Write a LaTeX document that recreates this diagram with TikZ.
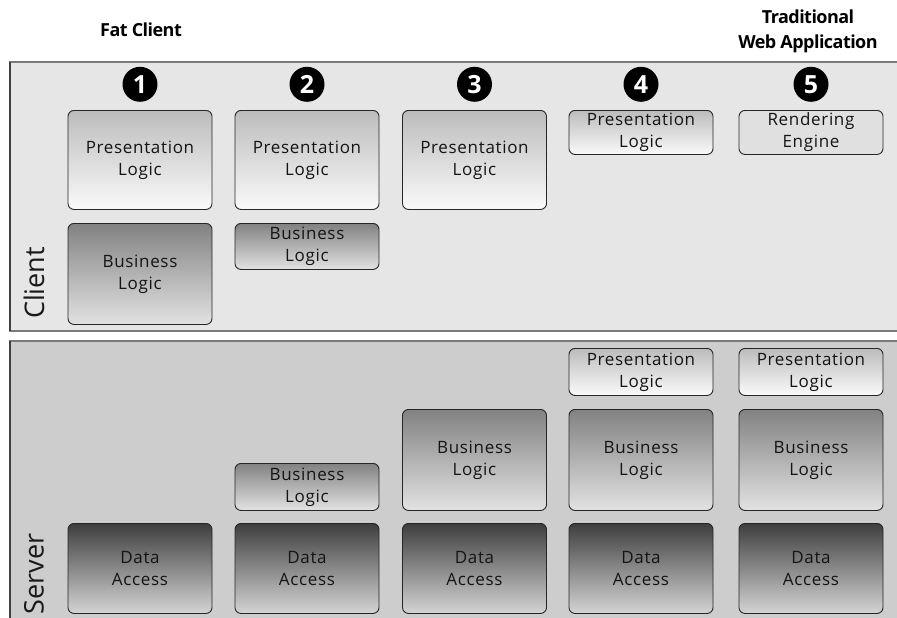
\documentclass[tikz,border=0pt]{standalone}
\usepackage{fontspec}
\setmainfont{Open Sans}
\usetikzlibrary{shapes, positioning}
\definecolor{clientbg}{HTML}{E6E6E6}
\definecolor{serverbg}{HTML}{CDCDCD}
\definecolor{paneledge}{HTML}{7A7A7A}
\definecolor{presTop}{HTML}{BCBCBC}
\definecolor{presBot}{HTML}{FAFAFA}
\definecolor{busTop}{HTML}{828282}
\definecolor{busBot}{HTML}{E2E2E2}
\definecolor{dataTop}{HTML}{3E3E3E}
\definecolor{dataBot}{HTML}{D4D4D4}
\newcommand{\boxfont}{\fontsize{17}{22}\selectfont\addfontfeatures{LetterSpace=4}}
\tikzset{
    tier box/.style = {rectangle, rounded corners=6pt, draw=black!85, line width=0.9pt, minimum width=144pt, inner sep=0pt, align=center, text=black!92, font=\boxfont, anchor=north},
    pres box/.style = {tier box, top color=presTop, bottom color=presBot},
    bus box/.style = {tier box, top color=busTop, bottom color=busBot},
    data box/.style = {tier box, top color=dataTop, bottom color=dataBot},
    engine box/.style = {tier box, left color=black!12, middle color=black!40, right color=black!12},
    num circle/.style = {circle, fill=black, text=white, inner sep=0pt, minimum size=35pt, font=\fontsize{25}{25}\selectfont\bfseries},
    tier label/.style = {rotate=90, text=black!90, font=\fontsize{27}{27}\selectfont},
    column title/.style = {align=center, font=\fontsize{18}{25}\selectfont\bfseries\addfontfeatures{LetterSpace=-3}}
}

\begin{document}
\begin{tikzpicture}[x=1pt, y=-1pt]
        \useasboundingbox (0,0) rectangle (897,618);
        % panels
        \fill[clientbg] (10,62) rectangle (897,331);
        \fill[serverbg] (10,341) rectangle (897,618);
        \draw[paneledge, line width=1.2pt] (897,62) -- (10,62) -- (10,331) -- (897,331);
        \draw[paneledge, line width=1.2pt] (897,341) -- (10,341) -- (10,618);
        \draw[black!75, line width=1.6pt] (10,62) -- (10,331) (10,341) -- (10,618);

        \node[column title] (fattitle) at (141,30) {Fat Client};
        \node[column title] (webtitle) at (808,31) {Traditional\\Web Application};

        \node[tier label] (clientlabel) at (34,283) {Client};
        \node[tier label] (serverlabel) at (34,574) {Server};

        % client tier
        \node[pres box, minimum height=99pt] (cpres1) at (140,110) {Presentation\\Logic};
        \node[pres box, minimum height=99pt] (cpres2) at (307,110) {Presentation\\Logic};
        \node[pres box, minimum height=99pt] (cpres3) at (474.5,110) {Presentation\\Logic};
        \node[pres box, minimum height=44pt] (cpres4) at (641,110) {Presentation\\Logic};
        \node[engine box, minimum height=44pt] (cengine5) at (811,110) {Rendering\\Engine};
        \node[bus box, minimum height=101pt] (cbus1) at (140,223) {Business\\Logic};
        \node[bus box, minimum height=46pt] (cbus2) at (307,223) {Business\\Logic};

        \node[num circle, above=8pt of cpres1] (num1) {1};
        \node[num circle, above=8pt of cpres2] (num2) {2};
        \node[num circle, above=8pt of cpres3] (num3) {3};
        \node[num circle, above=8pt of cpres4] (num4) {4};
        \node[num circle, above=8pt of cengine5] (num5) {5};

        % server tier
        \node[pres box, minimum height=47pt] (spres4) at (641,348) {Presentation\\Logic};
        \node[pres box, minimum height=47pt] (spres5) at (811,348) {Presentation\\Logic};
        \node[bus box, minimum height=47pt] (sbus2) at (307,463) {Business\\Logic};
        \node[bus box, minimum height=101pt] (sbus3) at (474.5,409) {Business\\Logic};
        \node[bus box, minimum height=101pt] (sbus4) at (641,409) {Business\\Logic};
        \node[bus box, minimum height=101pt] (sbus5) at (811,409) {Business\\Logic};
        \node[data box, minimum height=90pt] (sdata1) at (140,523) {Data\\Access};
        \node[data box, minimum height=90pt] (sdata2) at (307,523) {Data\\Access};
        \node[data box, minimum height=90pt] (sdata3) at (474.5,523) {Data\\Access};
        \node[data box, minimum height=90pt] (sdata4) at (641,523) {Data\\Access};
        \node[data box, minimum height=90pt] (sdata5) at (811,523) {Data\\Access};
    \end{tikzpicture}
\end{document}
